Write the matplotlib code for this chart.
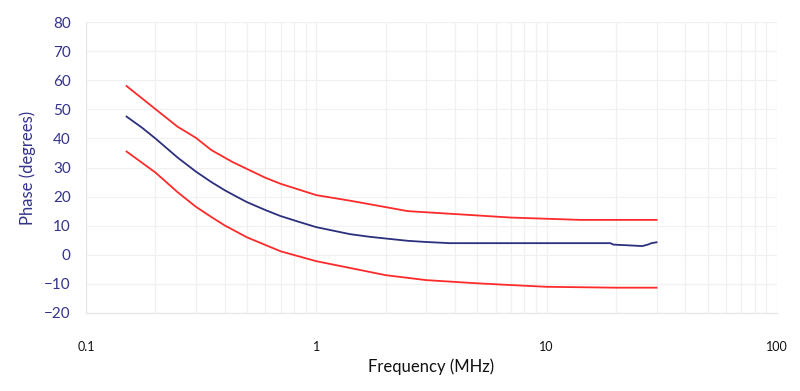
import numpy as np
import matplotlib
matplotlib.use('Agg')
import matplotlib.pyplot as plt
from matplotlib.ticker import LogLocator, FixedLocator, NullFormatter

# Frequency (MHz) and phase (degrees)
freq_upper = [0.15, 0.2, 0.25, 0.3, 0.35, 0.43, 0.5, 0.6, 0.7, 1.0, 1.4, 2.5, 4, 7, 14, 30]
phase_upper = [58, 50.1, 44, 40.2, 36, 32, 29.5, 26.5, 24.4, 20.5, 18.6, 15, 14, 12.8, 12, 12]

freq_mid = [0.15, 0.175, 0.2, 0.25, 0.3, 0.35, 0.4, 0.45, 0.5, 0.6, 0.7, 0.85, 1.0, 1.2,
            1.4, 1.7, 2.0, 2.5, 3.0, 3.8, 18.9, 19.5, 22, 26, 27.5, 28.5, 30]
phase_mid = [47.5, 43.7, 40, 33.4, 28.6, 25, 22.2, 20, 18.1, 15.4, 13.3, 11.2, 9.5, 8.2,
             7.1, 6.2, 5.6, 4.8, 4.4, 4.0, 4.0, 3.5, 3.3, 3.0, 3.5, 4.0, 4.3]

freq_lower = [0.15, 0.2, 0.25, 0.3, 0.35, 0.4, 0.5, 0.7, 1.0, 1.5, 2.0, 3.0, 5, 7, 10, 20, 30]
phase_lower = [35.5, 28.3, 21.5, 16.5, 13, 10.1, 6, 1.2, -2.2, -5, -7, -8.7, -9.8, -10.4, -11, -11.3, -11.3]

yticks = list(range(-20, 81, 10))
xticks = [0.1, 1, 10, 100]
xticklabels = ['0.1', '1', '10', '100']

plt.rcParams['font.family'] = ['Lato', 'DejaVu Sans']

fig = plt.figure(figsize=(8, 3.91), dpi=100)
ax = fig.add_axes([0.1075, 0.1995, 0.86375, 0.7442])

ax.plot(freq_upper, phase_upper, color='#ff2a2a', linewidth=1.3)
ax.plot(freq_lower, phase_lower, color='#ff2a2a', linewidth=1.3)
ax.plot(freq_mid, phase_mid, color='#2b2f7d', linewidth=1.3)

ax.set_xscale('log')
ax.set_xlim(0.1, 100)
ax.set_ylim(-20, 80)

ax.xaxis.set_major_locator(FixedLocator(xticks))
ax.set_xticklabels(xticklabels)
ax.xaxis.set_minor_locator(LogLocator(base=10, subs=np.arange(2, 10)))
ax.xaxis.set_minor_formatter(NullFormatter())
ax.set_yticks(yticks)

ax.grid(True, which='both', color='#f0f0f0', linewidth=0.9)
ax.set_axisbelow(True)

for side in ['top', 'right']:
    ax.spines[side].set_visible(False)
for side in ['left', 'bottom']:
    ax.spines[side].set_color('#e6e6e6')

ax.tick_params(axis='both', which='both', length=0)
ax.tick_params(axis='y', labelsize=11, labelcolor='#33338c', pad=11)
ax.tick_params(axis='x', labelsize=9, labelcolor='#111111', pad=20)

ax.set_ylabel('Phase (degrees)', fontsize=12, color='#33338c', labelpad=6)
ax.set_xlabel('Frequency (MHz)', fontsize=12, color='#111111', labelpad=4)

fig.savefig('out.png', dpi=100)
